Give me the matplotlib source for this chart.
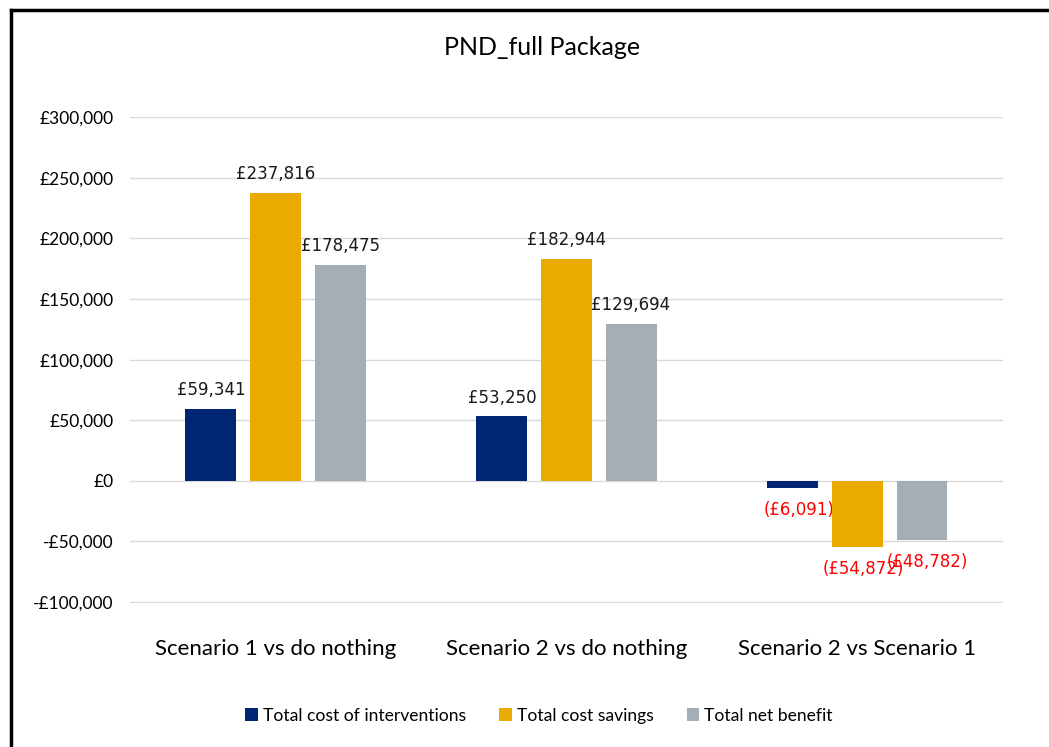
import numpy as np
import matplotlib.pyplot as plt
from matplotlib.lines import Line2D
from matplotlib.ticker import FuncFormatter

categories = ['Scenario 1 vs do nothing', 'Scenario 2 vs do nothing', 'Scenario 2 vs Scenario 1']
series_names = ['Total cost of interventions', 'Total cost savings', 'Total net benefit']
cost_interventions = [59341, 53250, -6091]
cost_savings = [237816, 182944, -54872]
net_benefit = [178475, 129694, -48782]
colors = ['#002673', '#E9AB00', '#A5AEB4']

main_font = 'Lato'
label_font = 'DejaVu Sans'

fig = plt.figure(figsize=(10.49, 7.47), dpi=100)
ax = fig.add_axes([0.124, 0.193, 0.832, 0.650])

x = np.arange(len(categories))
w = 0.175
step = 0.222
all_series = [cost_interventions, cost_savings, net_benefit]
for i, vals in enumerate(all_series):
    pos = x + (i - 1) * step
    ax.bar(pos, vals, width=w, color=colors[i], label=series_names[i], zorder=3)
    for px, v in zip(pos, vals):
        if v >= 0:
            ax.annotate('£{:,}'.format(v), (px, v), xytext=(0, 7), textcoords='offset points',
                        ha='center', va='bottom', fontsize=12, family=label_font, color='#1a1a1a')
        else:
            ax.annotate('(£{:,})'.format(-v), (px + 0.02, v), xytext=(0, -9), textcoords='offset points',
                        ha='center', va='top', fontsize=12, family=label_font, color='#FF0000')

ax.set_ylim(-100600, 300000)
ax.set_xlim(-0.5, 2.5)
ax.set_yticks(np.arange(-100000, 300001, 50000))
ax.yaxis.set_major_formatter(FuncFormatter(lambda v, p: ('-£{:,}'.format(int(-v)) if v < 0 else '£{:,}'.format(int(v)))))
ax.set_xticks(x)
ax.set_xticklabels(categories, fontsize=16, family=main_font)
for lbl in ax.get_yticklabels():
    lbl.set_family(main_font)
    lbl.set_fontsize(12.5)
ax.tick_params(length=0)
ax.tick_params(axis='y', pad=12)
ax.tick_params(axis='x', pad=26)
ax.grid(axis='y', color='#D9D9D9', linewidth=1, zorder=0)
for s in ax.spines.values():
    s.set_visible(False)

fig.text(0.517, 0.937, 'PND_full Package', ha='center', va='center', fontsize=18, family=main_font)

leg = fig.legend(loc='center', bbox_to_anchor=(0.514, 0.042), ncol=3, frameon=False,
                 handlelength=0.7, handleheight=0.7, handletextpad=0.3, columnspacing=1.9,
                 prop={'family': main_font, 'size': 12.6})

fig.add_artist(Line2D([0.0105, 0.0105], [0.0, 0.987], color='black', linewidth=2.5, transform=fig.transFigure))
fig.add_artist(Line2D([0.0105, 1.0], [0.987, 0.987], color='black', linewidth=2.5, transform=fig.transFigure))

fig.savefig('out.png', dpi=100)
